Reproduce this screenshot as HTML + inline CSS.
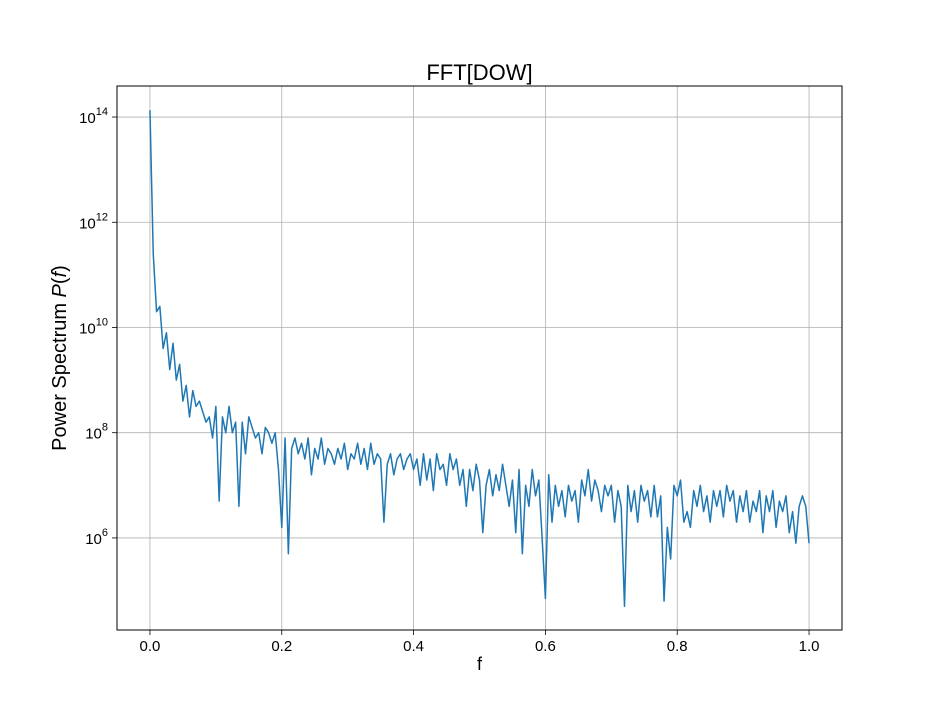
<!DOCTYPE html>
<html><head><meta charset="utf-8"><style>
body{margin:0;background:#fff}
svg{display:block;font-family:"Liberation Sans","DejaVu Sans",sans-serif}
</style></head><body>
<svg id="chart" width="936" height="720" viewBox="0 0 936 720" xmlns="http://www.w3.org/2000/svg">
<rect width="936" height="720" fill="#fff"/>
<g id="grid"></g>
<path id="series" fill="none" stroke="#1f77b4" stroke-width="1.5" stroke-linejoin="round"/>
<rect x="117" y="86" width="725" height="544" fill="none" stroke="#000" stroke-width="1"/>
<g id="ticks"></g>
<text x="479.5" y="80" font-size="22" text-anchor="middle">FFT[DOW]</text>
<text x="479.5" y="670" font-size="18" text-anchor="middle">f</text>
<text transform="translate(66,358) rotate(-90)" font-size="20" text-anchor="middle">Power Spectrum <tspan font-style="italic">P</tspan>(<tspan font-style="italic">f</tspan>)</text>
</svg>
<script>
const xTicks = [0.0, 0.2, 0.4, 0.6, 0.8, 1.0];
const xTickLabels = ["0.0", "0.2", "0.4", "0.6", "0.8", "1.0"];
const yTickExps = [6, 8, 10, 12, 14];
const freqStep = 0.005;
const logPower = [14.13,11.4,10.3,10.4,9.6,9.9,9.2,9.7,9.0,9.3,8.6,8.9,8.3,8.8,8.5,8.6,8.4,8.2,8.3,7.9,
8.5,6.7,8.3,8.0,8.5,8.0,8.2,6.6,8.2,7.6,8.3,8.1,7.9,8.0,7.6,8.1,8.0,7.8,8.0,7.3,
6.2,7.9,5.7,7.7,7.9,7.6,7.8,7.5,7.9,7.2,7.7,7.5,7.9,7.4,7.7,7.6,7.4,7.7,7.5,7.8,
7.3,7.6,7.5,7.8,7.4,7.7,7.3,7.8,7.4,7.6,7.5,6.3,7.4,7.6,7.2,7.5,7.6,7.3,7.5,7.6,
7.3,7.5,7.0,7.6,7.1,7.5,6.9,7.6,7.3,7.4,7.0,7.6,7.3,7.5,7.0,7.3,6.6,7.3,6.9,7.4,
7.1,6.1,7.0,7.3,6.8,7.2,6.9,7.4,7.0,6.6,7.1,6.1,7.3,5.7,7.0,6.6,7.3,6.8,7.1,6.0,
4.85,7.2,6.3,7.0,6.6,6.9,6.4,7.0,6.7,6.9,6.3,7.1,6.8,7.3,6.7,7.1,6.9,6.5,7.0,6.8,
7.0,6.3,6.9,6.6,4.7,7.0,6.5,6.9,6.3,7.0,6.7,6.9,6.4,7.0,6.4,6.8,4.8,6.2,5.6,7.0,
6.8,7.1,6.3,6.5,6.2,6.9,6.6,7.0,6.5,6.8,6.3,6.9,6.6,6.9,6.4,7.0,6.7,6.9,6.3,6.8,
6.5,6.9,6.3,6.7,6.5,6.9,6.1,6.8,6.5,6.9,6.2,6.7,6.5,6.8,6.1,6.5,5.9,6.6,6.8,6.6,5.9];

const X0=117,X1=842,Y0=86,Y1=630;
const xMin=-0.05,xMax=1.05,yMin=4.25,yMax=14.59;
const xs=v=>X0+(v-xMin)/(xMax-xMin)*(X1-X0);
const ys=v=>Y1-(v-yMin)/(yMax-yMin)*(Y1-Y0);
const NS="http://www.w3.org/2000/svg";
const grid=document.getElementById('grid'), ticks=document.getElementById('ticks');
function mk(tag,attrs,parent){const e=document.createElementNS(NS,tag);for(const k in attrs)e.setAttribute(k,attrs[k]);parent.appendChild(e);return e;}
xTicks.forEach((t,i)=>{
  const x=xs(t);
  const g=mk('line',{x1:x,x2:x,y1:Y0,y2:Y1,stroke:'#b0b0b0','stroke-width':0.8},grid);
  
  
  const tk=mk('line',{x1:x,x2:x,y1:Y1,y2:Y1+5,stroke:'#000','stroke-width':0.8},ticks);
  
  
  const tx=mk('text',{x:x,y:Y1+21,'font-size':15,'text-anchor':'middle'},ticks);
  tx.textContent=xTickLabels[i];
  
  
});
yTickExps.forEach(e=>{
  const y=ys(e);
  const g=mk('line',{x1:X0,x2:X1,y1:y,y2:y,stroke:'#b0b0b0','stroke-width':0.8},grid);
  
  
  const tk=mk('line',{x1:X0-5,x2:X0,y1:y,y2:y,stroke:'#000','stroke-width':0.8},ticks);
  
  
  const tx=mk('text',{x:X0-9,y:y+6,'font-size':15,'text-anchor':'end'},ticks);
  tx.innerHTML='10<tspan dy="-8" font-size="11">'+e+'</tspan>';
  
  
});
let d='';
logPower.forEach((v,i)=>{d+=(i?'L':'M')+xs(i*freqStep).toFixed(2)+','+ys(v).toFixed(2);});
document.getElementById('series').setAttribute('d',d);
</script>
</body></html>
